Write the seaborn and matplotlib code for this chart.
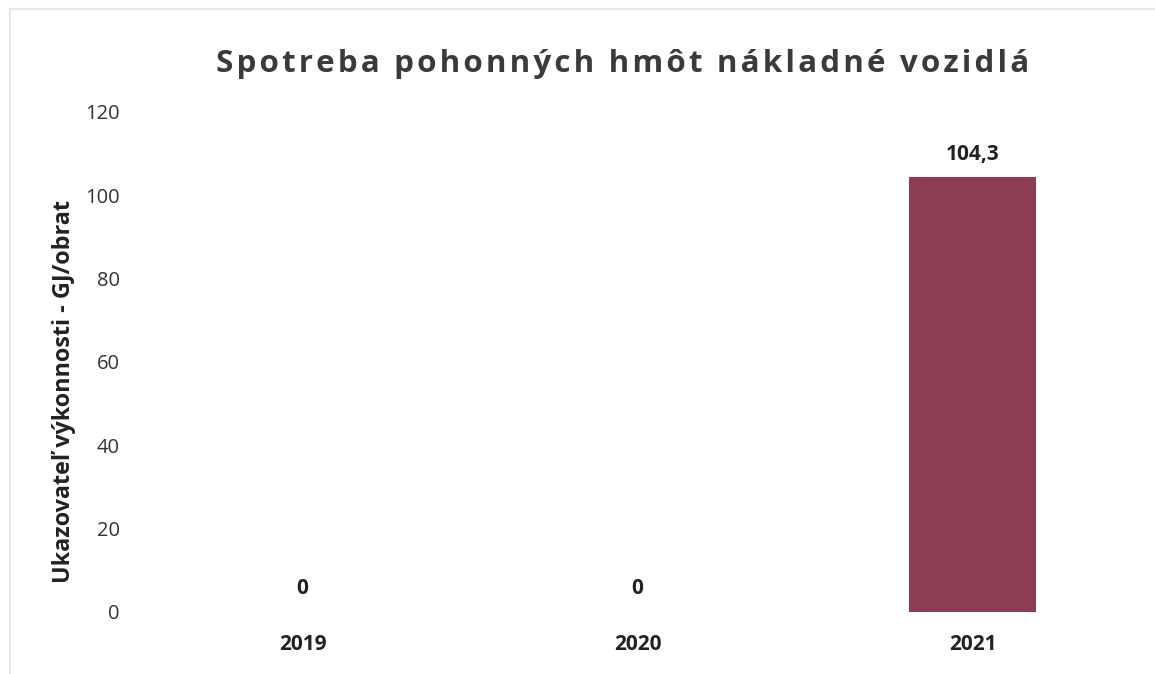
import pandas as pd
import matplotlib.pyplot as plt
import seaborn as sns
from matplotlib.patches import Rectangle

years = ["2019", "2020", "2021"]
values = [0, 0, 104.3]
value_labels = ["0", "0", "104,3"]

title = "Spotreba pohonných hmôt nákladné vozidlá"
y_label = "Ukazovateľ výkonnosti - GJ/obrat"
bar_color = "#8C3C53"

sns.set_theme(style="white")
plt.rcParams["font.family"] = ["Open Sans", "DejaVu Sans"]

df = pd.DataFrame({"year": years, "value": values})

fig = plt.figure(figsize=(11.55, 6.74), dpi=100)
ax = fig.add_axes([0.117, 0.092, 0.87, 0.742])

sns.barplot(data=df, x="year", y="value", color=bar_color, width=0.38,
            linewidth=0, ax=ax, saturation=1)

ax.set_ylim(0, 120)
ax.set_yticks(range(0, 121, 20))
ax.set_xlim(-0.5, 2.5)
for s in ax.spines.values():
    s.set_visible(False)
ax.tick_params(axis="y", length=0, pad=11, labelsize=14.5, labelcolor="#333333")
ax.tick_params(axis="x", length=0, pad=16, labelsize=15, labelcolor="#222222")
for t in ax.get_xticklabels():
    t.set_fontweight("bold")
ax.set_xlabel("")
ax.set_ylabel(y_label, fontsize=16.8, fontweight="bold", color="#222222")
ax.yaxis.set_label_coords(-0.059, 0.44)

for i, (v, lab) in enumerate(zip(values, value_labels)):
    ax.annotate(lab, (i, v), xytext=(0, 9), textcoords="offset points",
                ha="center", va="bottom", fontsize=15, fontweight="bold", color="#222222")

# spread the title letters a little, like the original
spaced_title = "\u200a".join(title)
fig.text(0.539, 0.905, spaced_title, ha="center", va="center", fontsize=22.6,
         fontweight="bold", color="#3a3a3a")

# light frame of the chart area
fig.patches.append(Rectangle((0.009, -0.01), 1.0, 0.997, transform=fig.transFigure,
                             fill=False, edgecolor="#e6e6e6", linewidth=1.5))

fig.savefig("out.png", dpi=100)
